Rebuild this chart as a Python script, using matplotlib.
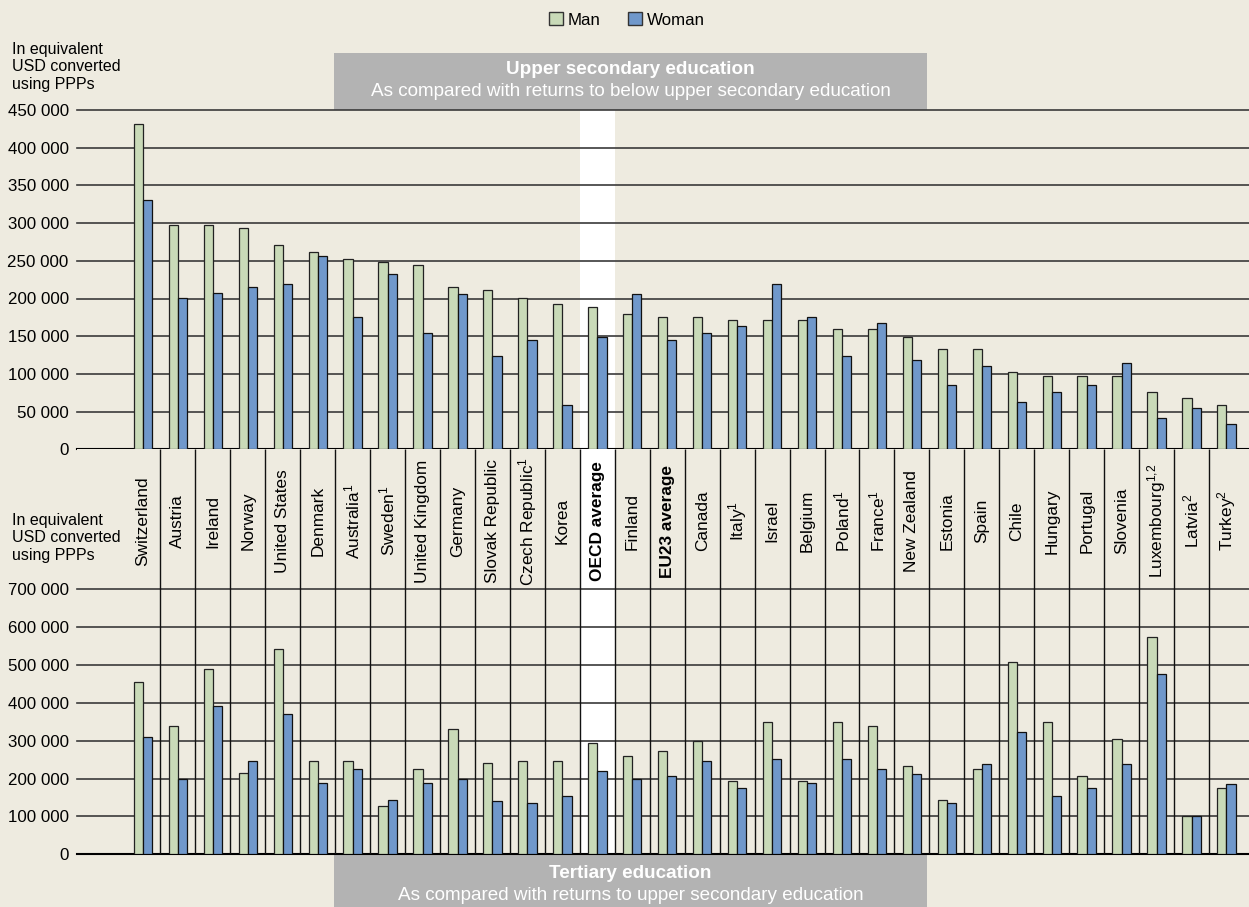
import numpy as np
import matplotlib.pyplot as plt
from matplotlib.patches import Rectangle, Patch

countries = ["Switzerland", "Austria", "Ireland", "Norway", "United States", "Denmark",
             "Australia$^{1}$", "Sweden$^{1}$", "United Kingdom", "Germany", "Slovak Republic",
             "Czech Republic$^{1}$", "Korea", "OECD average", "Finland", "EU23 average", "Canada",
             "Italy$^{1}$", "Israel", "Belgium", "Poland$^{1}$", "France$^{1}$", "New Zealand",
             "Estonia", "Spain", "Chile", "Hungary", "Portugal", "Slovenia",
             "Luxembourg$^{1{,}2}$", "Latvia$^{2}$", "Turkey$^{2}$"]
bold_labels = ["OECD average", "EU23 average"]

# upper secondary vs below upper secondary
upper_man = [431000, 297000, 297000, 293000, 271000, 262000, 253000, 249000, 245000, 215000,
             211000, 201000, 193000, 189000, 180000, 176000, 176000, 171000, 171000, 171000,
             159000, 159000, 149000, 133000, 133000, 103000, 97000, 97000, 97000, 76000,
             68000, 59000]
upper_woman = [331000, 201000, 207000, 215000, 219000, 257000, 176000, 232000, 154000, 206000,
               124000, 145000, 59000, 149000, 206000, 145000, 154000, 163000, 219000, 176000,
               124000, 167000, 119000, 85000, 111000, 63000, 76000, 85000, 115000, 41000,
               55000, 33000]

# tertiary vs upper secondary
tert_man = [456000, 338000, 489000, 214000, 542000, 246000, 246000, 128000, 226000, 331000,
            240000, 246000, 246000, 293000, 260000, 273000, 299000, 194000, 350000, 194000,
            350000, 338000, 233000, 143000, 226000, 509000, 350000, 207000, 305000, 574000,
            102000, 175000]
tert_woman = [311000, 200000, 391000, 246000, 371000, 188000, 226000, 143000, 188000, 200000,
              142000, 136000, 155000, 220000, 200000, 206000, 246000, 175000, 253000, 188000,
              253000, 226000, 213000, 135000, 239000, 324000, 155000, 175000, 239000, 475000,
              102000, 187000]

upper_ticks = list(range(0, 450001, 50000))
tert_ticks = list(range(0, 700001, 100000))

bg = "#eeebe0"
green = "#c9dab8"
blue = "#7098cb"
grey_box = "#b3b3b3"

plt.rcParams["font.family"] = ["Liberation Sans", "DejaVu Sans"]
plt.rcParams["mathtext.default"] = "regular"

W, H = 1249, 907


def fy(px):
    return 1 - px / H


fig = plt.figure(figsize=(W / 100, H / 100), dpi=100, facecolor=bg)
ax_top = fig.add_axes([77 / W, fy(449.3), 1 - 77 / W, fy(110) - fy(449.3)])
ax_bot = fig.add_axes([77 / W, fy(854.3), 1 - 77 / W, fy(449.3) - fy(854.3)])

x = np.arange(len(countries))
bw = 0.263
bot_top = (854.3 - 449.3) / (854.3 - 589.3) * 700000

for ax, man, woman, ticks, ytop in [(ax_top, upper_man, upper_woman, upper_ticks, 450000),
                                    (ax_bot, tert_man, tert_woman, tert_ticks, bot_top)]:
    ax.set_facecolor(bg)
    ax.axvspan(12.5, 13.5, color="white", zorder=0, lw=0)
    for t in ticks:
        ax.axhline(t, color="#000000" if t == 0 else "#3a3a3a",
                   lw=1.5 if t == 0 else 1.2, zorder=1, clip_on=False)
    ax.bar(x - bw / 2, man, bw, color=green, edgecolor="#222222", lw=0.9, zorder=3)
    ax.bar(x + bw / 2, woman, bw, color=blue, edgecolor="#111111", lw=0.9, zorder=3)
    ax.set_xlim(-1.888, 31.645)
    ax.set_ylim(0, ytop)
    ax.set_yticks(ticks)
    ax.set_yticklabels([f"{t:,}".replace(",", " ") for t in ticks])
    ax.tick_params(axis="y", length=0, pad=6, labelsize=12.2)
    ax.set_xticks([])
    for s in ax.spines.values():
        s.set_visible(False)

# category separators through the label band and the lower panel
ax_bot.vlines(x[:-1] + 0.5, 0, bot_top, color="#111111", lw=1.0, zorder=2)

label_y = (854.3 - 521) / (854.3 - 589.3) * 700000
for i, name in enumerate(countries):
    ax_bot.text(i, label_y, name, rotation=90, ha="center", va="center", fontsize=12.4,
                fontweight="bold" if name in bold_labels else "normal", zorder=4)

# unit labels
for top_px in (42, 513):
    fig.text(12 / W, fy(top_px), "In equivalent\nUSD converted\nusing PPPs",
             ha="left", va="top", fontsize=11.5, linespacing=1.2)

# grey title boxes
fig.add_artist(Rectangle((334 / W, fy(110)), (927 - 334) / W, (110 - 53) / H,
                         transform=fig.transFigure, color=grey_box, lw=0, zorder=0))
fig.add_artist(Rectangle((334 / W, 0), (927 - 334) / W, (907 - 855) / H,
                         transform=fig.transFigure, color=grey_box, lw=0, zorder=0))
fig.text(630.5 / W, fy(70), "Upper secondary education", ha="center", va="center",
         color="white", fontweight="bold", fontsize=13.6)
fig.text(630.5 / W, fy(92), "As compared with returns to below upper secondary education",
         ha="center", va="center", color="white", fontsize=13.6)
fig.text(630.5 / W, fy(873), "Tertiary education", ha="center", va="center",
         color="white", fontweight="bold", fontsize=13.6)
fig.text(630.5 / W, fy(895), "As compared with returns to upper secondary education",
         ha="center", va="center", color="white", fontsize=13.6)

handles = [Patch(facecolor=green, edgecolor="#333333", label="Man"),
           Patch(facecolor=blue, edgecolor="#333333", label="Woman")]
fig.legend(handles=handles, loc="center", bbox_to_anchor=(627 / W, fy(20)), ncol=2,
           frameon=False, fontsize=12.2, handlelength=0.8, handleheight=0.8,
           handletextpad=0.3, columnspacing=1.6)

fig.savefig("out.png", dpi=100, facecolor=bg)
